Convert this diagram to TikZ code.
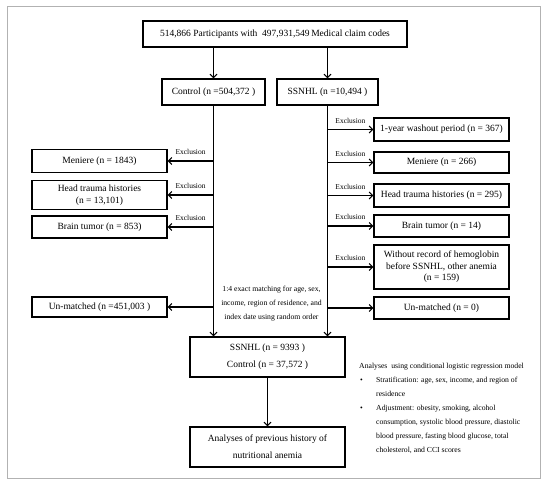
\documentclass[tikz,border=0pt]{standalone}
\usepackage{fontspec}
\setmainfont{Liberation Serif}
\usetikzlibrary{arrows.meta,calc}
\begin{document}
\begin{tikzpicture}[x=1pt,y=-1pt,
  box/.style={draw,line width=1.1pt,inner sep=1pt,align=center,font=\fontsize{9.5}{12}\selectfont},
  arr/.style={line width=1.1pt,-{Straight Barb[length=3.5pt,width=7pt]}},
  lbl/.style={font=\fontsize{7.5}{9}\selectfont,above=5pt,inner sep=0.5pt},
  small/.style={font=\fontsize{7.7}{14}\selectfont}
]
\useasboundingbox (0,0) rectangle (550,487);
\draw[gray!60,line width=1pt] (7,7) rectangle (540,478);

% top
\node[box,minimum width=264pt,minimum height=26pt] (top) at (275,34) {514,866 Participants with\ \ 497,931,549\,Medical claim codes};
\node[box,minimum width=103pt,minimum height=26pt] (ctrl) at (213.5,92) {Control (n =504,372 )};
\node[box,minimum width=101pt,minimum height=26pt] (ssnhl) at (327.5,92) {SSNHL (n =10,494 )};

% left exclusions
\node[box,minimum width=135pt,minimum height=23pt] (lmen) at (99.5,161) {Meniere (n = 1843)};
\node[box,minimum width=135pt,minimum height=29pt] (lhead) at (99.5,195) {Head trauma histories\\(n = 13,101)};
\node[box,minimum width=135pt,minimum height=22pt] (lbrain) at (99.5,227) {Brain tumor (n = 853)};
\node[box,minimum width=135pt,minimum height=20pt] (lun) at (99.5,307) {Un-matched (n =451,003 )};

% right exclusions
\node[box,minimum width=135pt,minimum height=23pt] (rwash) at (441.5,129.5) {1-year washout period (n = 367)};
\node[box,minimum width=135pt,minimum height=21pt] (rmen) at (441.5,162.5) {Meniere (n = 266)};
\node[box,minimum width=135pt,minimum height=23pt] (rhead) at (441.5,195.5) {Head trauma histories (n = 295)};
\node[box,minimum width=135pt,minimum height=22pt] (rbrain) at (441.5,226) {Brain tumor (n = 14)};
\node[box,minimum width=135pt,minimum height=44pt,font=\fontsize{9.5}{11.5}\selectfont] (rwithout) at (441.5,267) {Without record of hemoglobin\\before SSNHL, other anemia\\(n = 159)};
\node[box,minimum width=135pt,minimum height=22pt] (run) at (441.5,308) {Un-matched (n = 0)};

% bottom
\node[box,minimum width=155pt,minimum height=40pt,font=\fontsize{9.5}{17}\selectfont] (matched) at (267.5,357) {SSNHL (n = 9393 )\\Control (n = 37,572 )};
\node[box,minimum width=155pt,minimum height=40pt,font=\fontsize{9.5}{17}\selectfont] (anal) at (267.5,447) {Analyses of previous history of\\nutritional anemia};

% arrows from top
\draw[arr] (top.south -| ctrl.north) -- (ctrl.north);
\draw[arr] (top.south -| ssnhl.north) -- (ssnhl.north);

% verticals
\draw[arr] (ctrl.south) -- (ctrl.south |- matched.north);
\draw[arr] (ssnhl.south) -- (ssnhl.south |- matched.north);

% left branches
\draw[arr] (ctrl.south |- lmen.east) -- node[lbl]{Exclusion} (lmen.east);
\draw[arr] (ctrl.south |- lhead.east) -- node[lbl]{Exclusion} (lhead.east);
\draw[arr] (ctrl.south |- lbrain.east) -- node[lbl]{Exclusion} (lbrain.east);
\draw[arr] (ctrl.south |- lun.east) -- (lun.east);

% right branches
\draw[arr] (ssnhl.south |- rwash.west) -- node[lbl]{Exclusion} (rwash.west);
\draw[arr] (ssnhl.south |- rmen.west) -- node[lbl]{Exclusion} (rmen.west);
\draw[arr] (ssnhl.south |- rhead.west) -- node[lbl]{Exclusion} (rhead.west);
\draw[arr] (ssnhl.south |- rbrain.west) -- node[lbl]{Exclusion} (rbrain.west);
\draw[arr] (ssnhl.south |- rwithout.west) -- node[lbl]{Exclusion} (rwithout.west);
\draw[arr] (ssnhl.south |- run.west) -- (run.west);

% matched -> analyses
\draw[arr] (matched) -- (anal);

% matching text
\node[small,align=center,inner sep=0pt] (match) at (271.5,304) {1:4 exact matching\ for age, sex,\\income, region of residence,\ and\\index date using random order};

% notes
\node[small,anchor=north west,inner sep=0pt,align=left] (notes) at (359,363) {Analyses\ \ using conditional logistic regression model\\
\makebox[17pt][l]{\hspace{1pt}•}Stratification: age, sex, income, and region of\\
\hspace*{17pt}residence\\
\makebox[17pt][l]{\hspace{1pt}•}Adjustment: obesity, smoking, alcohol\\
\hspace*{17pt}consumption, systolic blood pressure, diastolic\\
\hspace*{17pt}blood pressure, fasting blood glucose, total\\
\hspace*{17pt}cholesterol, and CCI scores};
\end{tikzpicture}
\end{document}
